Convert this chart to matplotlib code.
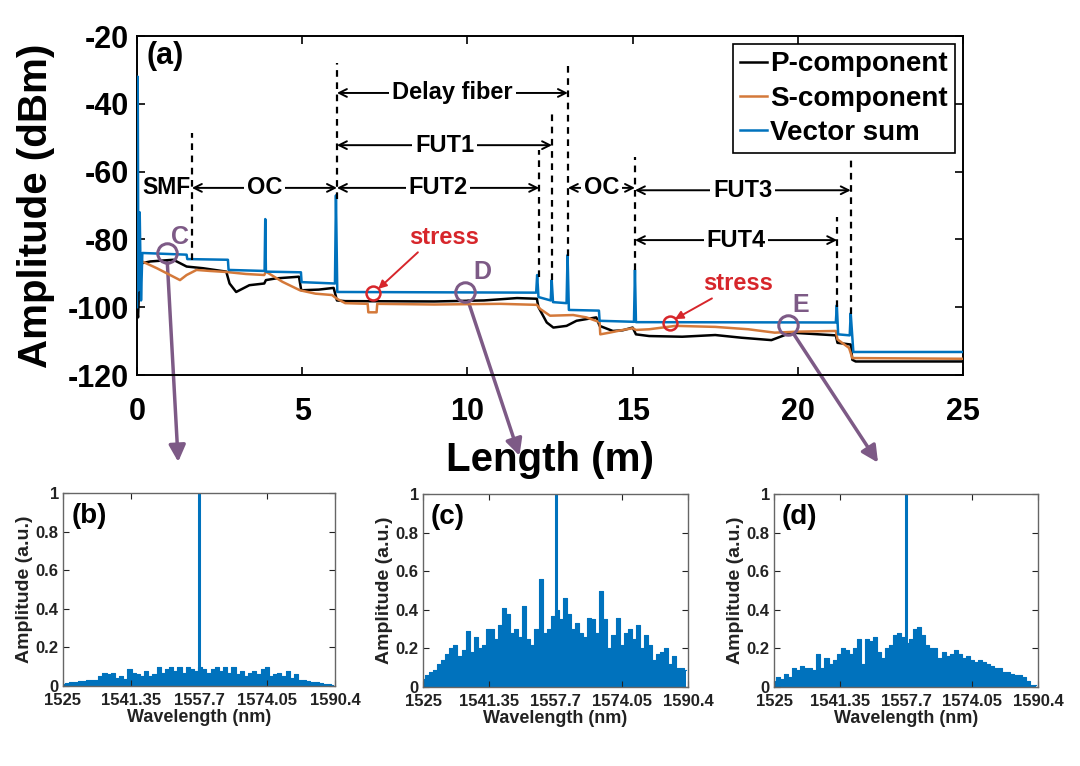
import numpy as np
import matplotlib
matplotlib.use('Agg')
import matplotlib.pyplot as plt

plt.rcParams['font.family'] = ['Liberation Sans', 'DejaVu Sans']
plt.rcParams['font.weight'] = 'bold'
plt.rcParams['axes.unicode_minus'] = False

# ---- trace (a): length (m) vs amplitude (dBm) ----
p_x = [0.0, 0.03, 0.08, 0.15, 0.4, 1.1, 1.4, 1.5, 2.0, 2.7, 2.8, 3.0, 3.1, 3.4, 3.85, 3.9, 4.2,
       4.9, 4.97, 5.5, 5.95, 6.05, 6.3, 9.0, 10.5, 11.5, 12.1, 12.15, 12.4, 12.6, 13.0, 13.3,
       13.9, 14.0, 14.4, 14.7, 15.0, 15.1, 15.5, 16.5, 17.5, 18.3, 19.2, 19.8, 21.15, 21.2,
       21.6, 21.65, 21.75, 25.0]
p_y = [-100, -103, -90, -87, -86.5, -86, -87.5, -88, -88.5, -89.5, -93, -95.5, -95, -93.5, -93,
       -92, -91.5, -91, -95, -94.8, -94.3, -98, -98.2, -98.3, -98, -97.3, -97.5, -100, -104.5,
       -106, -105.5, -104, -103, -105.5, -107, -106.8, -106, -108, -108.5, -108.7, -108.2, -109,
       -109.7, -107.5, -108.3, -110.5, -111, -115.5, -116, -116]

s_x = [0.0, 0.05, 0.2, 0.6, 1.0, 1.3, 1.5, 1.8, 2.2, 2.7, 3.3, 3.85, 3.9, 4.4, 4.93, 5.4, 5.9,
       6.05, 6.3, 6.98, 7.0, 7.25, 7.27, 9.0, 11.0, 12.1, 12.2, 12.5, 13.2, 13.6, 14.0, 14.02,
       14.3, 14.7, 15.0, 15.1, 15.5, 16.3, 17.5, 18.5, 19.3, 20.0, 21.15, 21.2, 21.55, 21.65,
       21.75, 25.0]
s_y = [-95, -86, -86.7, -88.5, -90.5, -92, -90.5, -89, -89.3, -89.6, -90.2, -90.5, -89.5, -92.5,
       -95, -96, -96.4, -97.5, -98.8, -99, -101.5, -101.5, -99, -99.2, -99, -99.3, -100.5,
       -102.5, -102.3, -103, -104.4, -108, -107.5, -106.7, -106.2, -106.7, -106.5, -105.5,
       -105.8, -106.5, -107.5, -107.2, -107, -109.5, -112, -115, -115, -115.2]

vec_x = [0.0, 0.02, 0.04, 0.08, 0.12, 0.16, 1.5, 1.52, 2.75, 2.77, 3.86, 3.88, 3.9, 4.96, 4.98,
         5.99, 6.02, 6.06, 12.08, 12.11, 12.15, 12.52, 12.55, 12.59, 13.0, 13.03, 13.07, 13.98,
         14.0, 15.04, 15.07, 15.1, 21.15, 21.18, 21.22, 21.57, 21.6, 21.68, 25.0]
vec_y = [-100, -32, -95, -72, -98, -84, -84.5, -85.8, -86, -89, -89.3, -74, -89.5, -89.7, -92.6,
         -93, -67, -95.5, -95.7, -90.5, -97, -98, -92, -98.5, -98.8, -84.6, -100.8, -101, -104,
         -104.3, -89, -104.4, -104.5, -99.4, -108, -108.3, -101.8, -113.2, -113.2]

# section boundaries (dashed lines) and labelled spans
dash_x = [1.66, 6.05, 12.17, 12.56, 13.04, 15.07, 21.19, 21.6]
dash_top = [-48.6, -28, -53.6, -42.7, -28, -55.6, -73.4, -56]
dash_bottom = [-86, -68, -91, -92, -85, -89, -100, -102]

span_labels = ['Delay fiber', 'FUT1', 'FUT2', 'OC', 'OC', 'FUT3', 'FUT4']
span_start = [6.05, 6.05, 6.05, 1.66, 13.04, 15.07, 15.07]
span_end = [13.04, 12.56, 12.17, 6.05, 15.07, 21.6, 21.19]
span_y = [-36.8, -52.2, -64.8, -64.8, -64.8, -65.5, -80.2]

stress_pts = [(7.15, -95.8), (16.13, -104.7)]
stress_text = [(9.3, -79.3), (18.2, -92.9)]

probe_labels = ['C', 'D', 'E']
probe_pts = [(0.9, -84), (9.93, -95.5), (19.7, -105.3)]
probe_text = [(1.3, -79.3), (10.45, -89.6), (20.1, -99.4)]
probe_target = [(0.165, 0.397), (0.481, 0.405), (0.813, 0.396)]  # figure fraction

# ---- spectra (b)-(d) ----
wl = np.arange(1525, 1591)
amp_b = [0.01, 0.015, 0.02, 0.02, 0.025, 0.025, 0.03, 0.03, 0.03, 0.05, 0.07, 0.06, 0.07, 0.04,
         0.05, 0.035, 0.09, 0.07, 0.06, 0.05, 0.08, 0.05, 0.06, 0.1, 0.07, 0.09, 0.1, 0.08, 0.1,
         0.07, 0.1, 0.09, 0.08, 0.1, 0.09, 0.07, 0.09, 0.1, 0.08, 0.1, 0.07, 0.1, 0.06, 0.08,
         0.05, 0.07, 0.08, 0.06, 0.09, 0.1, 0.05, 0.06, 0.07, 0.05, 0.08, 0.04, 0.06, 0.03, 0.03,
         0.025, 0.02, 0.02, 0.015, 0.01, 0.01, 0.005]
amp_c = [0.04, 0.06, 0.08, 0.09, 0.12, 0.14, 0.17, 0.2, 0.22, 0.16, 0.19, 0.29, 0.18, 0.26, 0.2,
         0.22, 0.3, 0.3, 0.25, 0.32, 0.41, 0.38, 0.28, 0.3, 0.26, 0.42, 0.25, 0.22, 0.3, 0.56,
         0.28, 0.3, 0.37, 0.4, 0.35, 0.46, 0.38, 0.3, 0.33, 0.28, 0.26, 0.36, 0.35, 0.28, 0.5,
         0.35, 0.2, 0.27, 0.36, 0.22, 0.28, 0.3, 0.25, 0.32, 0.2, 0.27, 0.22, 0.14, 0.17, 0.18,
         0.2, 0.12, 0.16, 0.1, 0.1, 0.09]
amp_d = [0.03, 0.05, 0.04, 0.07, 0.05, 0.1, 0.09, 0.11, 0.1, 0.1, 0.09, 0.17, 0.1, 0.15, 0.12,
         0.14, 0.17, 0.2, 0.19, 0.17, 0.2, 0.25, 0.12, 0.25, 0.24, 0.26, 0.18, 0.15, 0.2, 0.22,
         0.27, 0.28, 0.26, 0.23, 0.25, 0.3, 0.31, 0.27, 0.22, 0.2, 0.2, 0.15, 0.18, 0.16, 0.17,
         0.19, 0.17, 0.15, 0.16, 0.14, 0.13, 0.14, 0.13, 0.12, 0.11, 0.1, 0.1, 0.08, 0.08, 0.07,
         0.06, 0.06, 0.05, 0.03, 0.01, 0.01]
peak_wl = 1557.7
peak_amp = 1.0
wl_ticks = [1525, 1541.35, 1557.7, 1574.05, 1590.4]
wl_ticklabels = ['1525', '1541.35', '1557.7', '1574.05', '1590.4']

blue = '#0072BD'
orange = '#D4793A'
purple = '#7D5A86'
red = '#D7262B'

fig = plt.figure(figsize=(10.8, 7.66), dpi=100)
ax = fig.add_axes([0.1269, 0.5104, 0.7648, 0.4426])

ax.plot(p_x, p_y, color='black', lw=1.8, label='P-component', zorder=3)
ax.plot(s_x, s_y, color=orange, lw=1.8, label='S-component', zorder=3)
ax.plot(vec_x, vec_y, color=blue, lw=1.8, label='Vector sum', zorder=4)

ax.set_xlim(0, 25)
ax.set_ylim(-120, -20)
ax.set_xticks([0, 5, 10, 15, 20, 25])
ax.set_yticks([-120, -100, -80, -60, -40, -20])
ax.tick_params(direction='in', length=6, width=1.2, top=True, right=True, labelsize=22)
ax.tick_params(axis='x', pad=16)
ax.tick_params(axis='y', pad=6)
for sp in ax.spines.values():
    sp.set_linewidth(1.4)
ax.set_xlabel('Length (m)', fontsize=29, fontweight='bold', labelpad=10)
ax.set_ylabel('Amplitude (dBm)', fontsize=29, fontweight='bold', labelpad=9)
ax.text(0.012, 0.985, '(a)', transform=ax.transAxes, ha='left', va='top', fontsize=22)

ax.vlines(dash_x, dash_bottom, dash_top, colors='black', linestyles=(0, (3, 2.5)), lw=1.6, zorder=5)

for lab, x0, x1, yy in zip(span_labels, span_start, span_end, span_y):
    ax.annotate('', xy=(x0, yy), xytext=(x1, yy),
                arrowprops=dict(arrowstyle='<->', color='black', lw=1.4,
                                shrinkA=0, shrinkB=0, mutation_scale=14), zorder=5)
    ax.text((x0 + x1) / 2, yy, lab, ha='center', va='center', fontsize=17, zorder=6,
            bbox=dict(facecolor='white', edgecolor='none', pad=2))
ax.text(0.9, -64.8, 'SMF', ha='center', va='center', fontsize=16.5, zorder=6)

for (px, py), (tx, ty) in zip(stress_pts, stress_text):
    ax.plot(px, py, 'o', ms=10, mfc='none', mec=red, mew=1.8, zorder=6)
    ax.text(tx, ty, 'stress', color=red, ha='center', va='center', fontsize=17, zorder=6)
    ax.annotate('', xy=(px + 0.15, py + 1.2), xytext=(tx - 0.8, ty - 4.5),
                arrowprops=dict(arrowstyle='-|>', color=red, lw=1.4, mutation_scale=12,
                                shrinkA=0, shrinkB=0), zorder=6)

leg = ax.legend(loc='upper right', fontsize=20, frameon=True, fancybox=False,
                edgecolor='black', handlelength=1.0, handletextpad=0.1, borderpad=0.25,
                labelspacing=0.3, borderaxespad=0.3)
leg.get_frame().set_linewidth(1.2)
leg.get_frame().set_alpha(1)

for lab, (px, py), (tx, ty), tgt in zip(probe_labels, probe_pts, probe_text, probe_target):
    ax.plot(px, py, 'o', ms=14, mfc='none', mec=purple, mew=2.2, zorder=7)
    ax.text(tx, ty, lab, color=purple, ha='center', va='center', fontsize=18, zorder=7)
    ax.annotate('', xy=tgt, xycoords='figure fraction', xytext=(px, py), textcoords='data',
                arrowprops=dict(arrowstyle='-|>', color=purple, lw=2.5, mutation_scale=25,
                                shrinkA=7, shrinkB=0),
                annotation_clip=False, zorder=1)

# ---- insets ----
inset_pos = [[0.0583, 0.1044, 0.2519, 0.252],
             [0.3917, 0.1031, 0.2454, 0.252],
             [0.7167, 0.1031, 0.2444, 0.252]]
inset_amps = [amp_b, amp_c, amp_d]
inset_tags = ['(b)', '(c)', '(d)']

for pos, amp, tag in zip(inset_pos, inset_amps, inset_tags):
    a = fig.add_axes(pos)
    a.fill_between(wl, amp, step='mid', color=blue, lw=0)
    a.step(wl, amp, where='mid', color=blue, lw=0.8)
    a.vlines(peak_wl, 0, peak_amp, colors=blue, lw=2.2)
    a.set_xlim(1525, 1590.4)
    a.set_ylim(0, 1)
    a.set_xticks(wl_ticks)
    a.set_xticklabels(wl_ticklabels)
    a.set_yticks([0, 0.2, 0.4, 0.6, 0.8, 1.0])
    a.set_yticklabels(['0', '0.2', '0.4', '0.6', '0.8', '1'])
    a.tick_params(direction='in', length=4, width=0.8, top=True, right=True, labelsize=12,
                  colors='#222222', pad=3)
    a.tick_params(axis='x', pad=5)
    for sp in a.spines.values():
        sp.set_color('#666666')
        sp.set_linewidth(1.0)
    a.set_xlabel('Wavelength (nm)', fontsize=13, fontweight='bold', labelpad=1, color='#222222')
    a.set_ylabel('Amplitude (a.u.)', fontsize=14, fontweight='bold', labelpad=2, color='#222222')
    a.text(0.03, 0.95, tag, transform=a.transAxes, ha='left', va='top', fontsize=20)

fig.savefig('out.png', dpi=100)
